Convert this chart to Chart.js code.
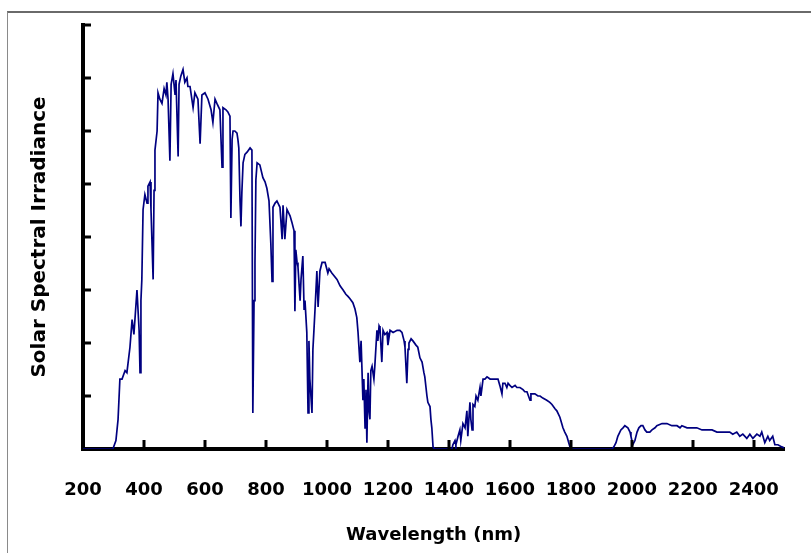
<!DOCTYPE html>
<html>
<head>
<meta charset="utf-8">
<script src="https://cdn.jsdelivr.net/npm/chart.js@4"></script>
<style>
  html, body { margin: 0; padding: 0; background: #fff; }
  #wrap { position: relative; width: 811px; height: 553px; overflow: hidden; }
  #frame { position: absolute; left: 7px; top: 11px; width: 900px; height: 700px;
           border-top: 2px solid #6a6a6a; border-left: 1px solid #8a8a8a; }
  #box { position: absolute; left: 0; top: 0; width: 811px; height: 553px; }
</style>
</head>
<body>
<div id="wrap">
  <div id="frame"></div>
  <div id="box"><canvas id="c"></canvas></div>
</div>
<script>
// Wavelength (nm)
const wavelengths = [
  200, 298, 308, 315, 321, 328, 338, 344, 354, 361, 367, 377, 384, 387, 390, 393, 397, 403, 410, 413,
  420, 423, 430, 433, 436, 443, 446, 452, 459, 466, 472, 475, 479, 485, 489, 495, 502, 505, 512, 515,
  521, 528, 534, 541, 544, 551, 557, 561, 567, 577, 584, 590, 600, 610, 620, 626, 633, 639, 649, 656,
  659, 669, 675, 682, 685, 689, 692, 698, 705, 708, 711, 715, 718, 721, 725, 731, 738, 748, 754, 757,
  761, 764, 767, 771, 780, 790, 797, 803, 810, 816, 820, 823, 830, 836, 846, 853, 856, 862, 869, 879,
  885, 892, 895, 898, 902, 905, 912, 915, 921, 925, 928, 934, 938, 941, 944, 951, 954, 957, 961, 967,
  971, 977, 984, 994, 1003, 1007, 1016, 1033, 1043, 1053, 1062, 1069, 1075, 1085, 1092, 1098, 1102, 1108, 1112, 1118,
  1121, 1125, 1128, 1131, 1135, 1138, 1141, 1144, 1148, 1154, 1157, 1164, 1167, 1171, 1174, 1180, 1184, 1190, 1197, 1200,
  1207, 1217, 1230, 1239, 1246, 1253, 1256, 1262, 1266, 1269, 1276, 1282, 1292, 1298, 1305, 1312, 1318, 1321, 1328, 1331,
  1338, 1341, 1344, 1348, 1351, 1410, 1413, 1420, 1423, 1430, 1436, 1439, 1446, 1453, 1459, 1462, 1469, 1472, 1476, 1479,
  1485, 1489, 1495, 1502, 1505, 1512, 1518, 1525, 1535, 1541, 1551, 1561, 1567, 1574, 1577, 1584, 1590, 1594, 1600, 1607,
  1617, 1623, 1633, 1643, 1649, 1656, 1666, 1669, 1682, 1692, 1699, 1708, 1721, 1731, 1738, 1748, 1754, 1764, 1774, 1780,
  1787, 1793, 1797, 1803, 1935, 1941, 1948, 1954, 1964, 1971, 1977, 1987, 1994, 1997, 2003, 2010, 2017, 2023, 2030, 2036,
  2043, 2049, 2059, 2066, 2076, 2082, 2099, 2115, 2131, 2148, 2158, 2164, 2181, 2197, 2213, 2230, 2246, 2263, 2279, 2289,
  2295, 2312, 2321, 2331, 2344, 2354, 2364, 2377, 2387, 2397, 2410, 2420, 2426, 2436, 2446, 2452, 2462, 2469, 2479, 2492,
  2500
];
// Solar spectral irradiance (W/m²/nm, estimated)
const irradiance = [
  0, 0, 0.04, 0.14, 0.33, 0.33, 0.37, 0.36, 0.48, 0.61, 0.54, 0.75, 0.56, 0.36, 0.70, 0.80, 1.13, 1.20, 1.16, 1.24,
  1.26, 1.13, 0.80, 1.22, 1.41, 1.50, 1.68, 1.65, 1.63, 1.70, 1.67, 1.73, 1.65, 1.36, 1.72, 1.77, 1.67, 1.74, 1.38, 1.72,
  1.76, 1.79, 1.73, 1.75, 1.71, 1.71, 1.65, 1.61, 1.68, 1.65, 1.44, 1.67, 1.68, 1.65, 1.60, 1.54, 1.65, 1.63, 1.60, 1.33,
  1.61, 1.60, 1.59, 1.57, 1.09, 1.46, 1.50, 1.50, 1.49, 1.46, 1.42, 1.17, 1.05, 1.21, 1.35, 1.39, 1.40, 1.42, 1.41, 0.17,
  0.70, 0.88, 1.27, 1.35, 1.34, 1.28, 1.26, 1.23, 1.17, 0.97, 0.79, 1.14, 1.16, 1.17, 1.14, 0.99, 1.15, 0.99, 1.13, 1.10,
  1.07, 1.03, 0.65, 0.94, 0.88, 0.86, 0.70, 0.80, 0.91, 0.66, 0.70, 0.55, 0.17, 0.51, 0.33, 0.17, 0.47, 0.55, 0.66, 0.84,
  0.67, 0.84, 0.88, 0.88, 0.83, 0.85, 0.83, 0.80, 0.77, 0.75, 0.73, 0.72, 0.71, 0.69, 0.66, 0.62, 0.55, 0.41, 0.51, 0.23,
  0.33, 0.10, 0.28, 0.03, 0.36, 0.18, 0.14, 0.37, 0.39, 0.33, 0.39, 0.56, 0.51, 0.58, 0.57, 0.41, 0.56, 0.54, 0.55, 0.49,
  0.56, 0.55, 0.56, 0.56, 0.55, 0.51, 0.48, 0.31, 0.47, 0.50, 0.52, 0.51, 0.49, 0.48, 0.43, 0.41, 0.36, 0.34, 0.25, 0.22,
  0.20, 0.14, 0.10, 0.01, 0, 0, 0.02, 0.04, 0.02, 0.06, 0.09, 0.04, 0.12, 0.10, 0.18, 0.06, 0.22, 0.14, 0.09, 0.21,
  0.20, 0.25, 0.23, 0.29, 0.25, 0.33, 0.33, 0.34, 0.33, 0.33, 0.33, 0.33, 0.30, 0.26, 0.31, 0.31, 0.29, 0.31, 0.30, 0.29,
  0.30, 0.29, 0.29, 0.28, 0.27, 0.27, 0.23, 0.26, 0.26, 0.25, 0.25, 0.24, 0.23, 0.22, 0.21, 0.19, 0.18, 0.15, 0.10, 0.08,
  0.06, 0.03, 0.01, 0, 0, 0.01, 0.03, 0.06, 0.09, 0.10, 0.11, 0.10, 0.08, 0.06, 0.02, 0.04, 0.08, 0.10, 0.11, 0.11,
  0.09, 0.08, 0.08, 0.09, 0.10, 0.11, 0.12, 0.12, 0.11, 0.11, 0.10, 0.11, 0.10, 0.10, 0.10, 0.09, 0.09, 0.09, 0.08, 0.08,
  0.08, 0.08, 0.08, 0.07, 0.08, 0.06, 0.07, 0.05, 0.07, 0.05, 0.07, 0.06, 0.08, 0.03, 0.06, 0.04, 0.06, 0.02, 0.02, 0.01,
  0.005
];
const xTicks = [200, 400, 600, 800, 1000, 1200, 1400, 1600, 1800, 2000, 2200, 2400];
const yTicks = [0, 0.25, 0.5, 0.75, 1.0, 1.25, 1.5, 1.75, 2.0];

const points = wavelengths.map((w, i) => ({ x: w, y: irradiance[i] }));

const tickMarks = {
  id: 'tickMarks',
  afterDraw(chart) {
    const { ctx, scales: { x, y }, chartArea } = chart;
    ctx.save();
    ctx.strokeStyle = '#000';
    ctx.lineWidth = 3;
    ctx.lineCap = 'butt';
    xTicks.forEach(v => {
      if (v === 200) return;
      const px = Math.round(x.getPixelForValue(v));
      ctx.beginPath();
      ctx.moveTo(px, chartArea.bottom);
      ctx.lineTo(px, chartArea.bottom - 9);
      ctx.stroke();
    });
    yTicks.forEach(v => {
      if (v === 0) return;
      const py = Math.round(y.getPixelForValue(v));
      ctx.beginPath();
      ctx.moveTo(chartArea.left, py);
      ctx.lineTo(chartArea.left + 8, py);
      ctx.stroke();
    });
    ctx.restore();
  }
};

new Chart(document.getElementById('c'), {
  type: 'line',
  data: {
    datasets: [{
      data: points,
      borderColor: '#000080',
      borderWidth: 1.7,
      pointRadius: 0,
      tension: 0,
      fill: false
    }]
  },
  options: {
    responsive: true,
    maintainAspectRatio: false,
    devicePixelRatio: 1,
    animation: false,
    events: [],
    layout: { padding: { top: 25, right: 26, left: 0, bottom: 0 } },
    plugins: { legend: { display: false }, tooltip: { enabled: false } },
    scales: {
      x: {
        type: 'linear',
        min: 200,
        max: 2500,
        afterBuildTicks: s => { s.ticks = xTicks.map(v => ({ value: v })); },
        afterFit: s => { s.height = 104; },
        grid: { display: false, drawTicks: false },
        border: { display: true, color: '#000', width: 4 },
        ticks: {
          color: '#000',
          padding: 31,
          maxRotation: 0,
          autoSkip: false,
          font: { family: '"DejaVu Sans", Verdana, sans-serif', size: 18, weight: 'bold' },
          callback: v => String(v)
        },
        title: {
          display: true,
          text: 'Wavelength (nm)',
          color: '#000',
          font: { family: '"DejaVu Sans", Verdana, sans-serif', size: 18, weight: 'bold' },
          padding: { top: 0, bottom: 7 }
        }
      },
      y: {
        min: 0,
        max: 2,
        afterBuildTicks: s => { s.ticks = yTicks.map(v => ({ value: v })); },
        afterFit: s => { s.width = 83; },
        grid: { display: false, drawTicks: false },
        border: { display: true, color: '#000', width: 4 },
        ticks: { display: false },
        title: {
          display: true,
          text: 'Solar Spectral Irradiance',
          color: '#000',
          font: { family: '"DejaVu Sans", Verdana, sans-serif', size: 20, weight: 'bold' },
          padding: { top: 28, bottom: 0 }
        }
      }
    }
  },
  plugins: [tickMarks]
});
</script>
</body>
</html>
